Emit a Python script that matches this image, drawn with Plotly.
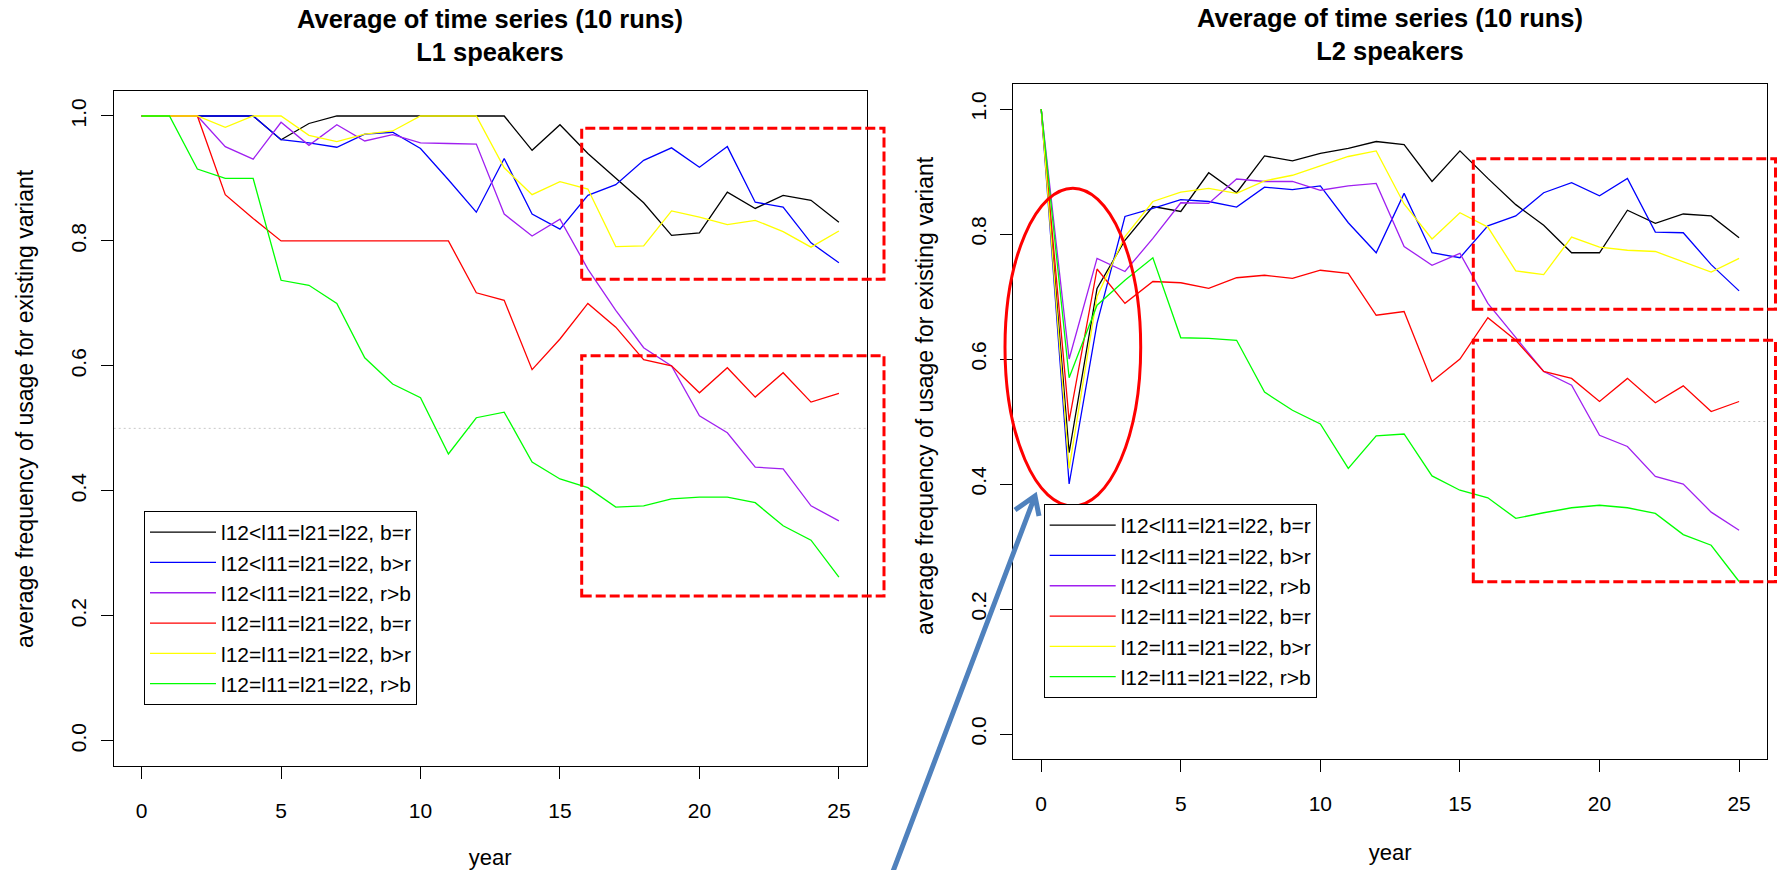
import plotly.graph_objects as go

# ---------------- data ----------------
years = list(range(26))

legend_labels = [
    "l12&lt;l11=l21=l22, b=r",
    "l12&lt;l11=l21=l22, b&gt;r",
    "l12&lt;l11=l21=l22, r&gt;b",
    "l12=l11=l21=l22, b=r",
    "l12=l11=l21=l22, b&gt;r",
    "l12=l11=l21=l22, r&gt;b",
]
line_colors = ["#000000", "#0000FF", "#A020F0", "#FF0000", "#FFFF00", "#00FF00"]

# L1 speakers
l1_black = [1, 1, 1, 1, 1, 0.962, 0.988, 1, 1, 1, 1, 1, 1, 1.0, 0.945, 0.986, 0.940, 0.900,
            0.861, 0.809, 0.813, 0.878, 0.852, 0.873, 0.865, 0.830]
l1_blue = [1, 1, 1, 1, 1, 0.962, 0.957, 0.950, 0.971, 0.974, 0.948, 0.898, 0.846, 0.932,
           0.843, 0.819, 0.873, 0.890, 0.929, 0.949, 0.918, 0.951, 0.862, 0.854, 0.797, 0.765]
l1_purple = [1, 1, 1, 0.951, 0.931, 0.990, 0.953, 0.986, 0.960, 0.970, 0.957, 0.956, 0.955,
             0.843, 0.808, 0.835, 0.755, 0.689, 0.629, 0.600, 0.520, 0.493, 0.438, 0.435,
             0.376, 0.352]
l1_red = [1, 1, 1, 0.874, 0.836, 0.8, 0.8, 0.8, 0.8, 0.8, 0.8, 0.8, 0.717, 0.705, 0.594,
          0.643, 0.700, 0.662, 0.610, 0.600, 0.557, 0.597, 0.550, 0.589, 0.542, 0.556]
l1_yellow = [1, 1, 1, 0.982, 1.0, 1.0, 0.969, 0.959, 0.971, 0.976, 1.0, 1.0, 1.0, 0.917,
             0.874, 0.895, 0.883, 0.791, 0.792, 0.848, 0.838, 0.826, 0.833, 0.815, 0.790,
             0.816]
l1_green = [1, 1, 0.915, 0.900, 0.900, 0.737, 0.729, 0.700, 0.613, 0.571, 0.549, 0.459,
            0.517, 0.526, 0.446, 0.419, 0.405, 0.374, 0.376, 0.387, 0.390, 0.390, 0.381,
            0.344, 0.321, 0.262]

# L2 speakers
l2_black = [1, 0.450, 0.713, 0.790, 0.844, 0.836, 0.898, 0.866, 0.925, 0.917, 0.929, 0.937,
            0.948, 0.943, 0.884, 0.933, 0.889, 0.847, 0.814, 0.770, 0.770, 0.838, 0.817,
            0.832, 0.829, 0.794]
l2_blue = [1, 0.400, 0.657, 0.828, 0.841, 0.855, 0.852, 0.843, 0.875, 0.871, 0.877, 0.818,
           0.770, 0.865, 0.770, 0.762, 0.813, 0.829, 0.866, 0.882, 0.861, 0.889, 0.803,
           0.802, 0.751, 0.709]
l2_purple = [1, 0.600, 0.761, 0.740, 0.793, 0.850, 0.849, 0.888, 0.884, 0.884, 0.870, 0.877,
             0.881, 0.780, 0.750, 0.769, 0.689, 0.635, 0.580, 0.558, 0.478, 0.460, 0.412,
             0.400, 0.355, 0.326]
l2_red = [1, 0.501, 0.744, 0.689, 0.724, 0.722, 0.713, 0.730, 0.734, 0.729, 0.742, 0.737,
          0.670, 0.676, 0.564, 0.600, 0.666, 0.630, 0.580, 0.569, 0.532, 0.569, 0.530,
          0.557, 0.516, 0.532]
l2_yellow = [1, 0.425, 0.700, 0.796, 0.852, 0.867, 0.873, 0.865, 0.885, 0.894, 0.909, 0.924,
             0.933, 0.848, 0.792, 0.834, 0.811, 0.741, 0.735, 0.795, 0.779, 0.774, 0.772,
             0.756, 0.739, 0.761]
l2_green = [1, 0.570, 0.686, 0.726, 0.762, 0.634, 0.633, 0.630, 0.547, 0.518, 0.496, 0.425,
            0.477, 0.480, 0.413, 0.390, 0.378, 0.345, 0.354, 0.362, 0.366, 0.362, 0.353,
            0.319, 0.302, 0.244]

x_ticks = [0, 5, 10, 15, 20, 25]
y_ticks = [0.0, 0.2, 0.4, 0.6, 0.8, 1.0]
y_ticktext = ["0.0", "0.2", "0.4", "0.6", "0.8", "1.0"]

title_line1 = "Average of time series (10 runs)"
title_l1 = "L1 speakers"
title_l2 = "L2 speakers"
x_title = "year"
y_title = "average frequency of usage for existing variant"

# ---------------- layout helpers ----------------
W, H = 1777, 870
FONT = "Liberation Sans, Arial, Helvetica, sans-serif"


def px(x):
    return x / W


def py(y):
    return 1 - y / H


fig = go.Figure()

l1_series = [l1_black, l1_blue, l1_purple, l1_red, l1_yellow, l1_green]
l2_series = [l2_black, l2_blue, l2_purple, l2_red, l2_yellow, l2_green]

for name, col, vals in zip(legend_labels, line_colors, l1_series):
    fig.add_trace(go.Scatter(x=years, y=vals, mode="lines", name=name,
                             line=dict(color=col, width=1.3),
                             xaxis="x", yaxis="y", legend="legend"))
for name, col, vals in zip(legend_labels, line_colors, l2_series):
    fig.add_trace(go.Scatter(x=years, y=vals, mode="lines", name=name,
                             line=dict(color=col, width=1.3),
                             xaxis="x2", yaxis="y2", legend="legend2"))

axis_common = dict(
    showline=True, mirror=True, linecolor="#000000", linewidth=1.2,
    ticks="outside", ticklen=12, tickwidth=1, tickcolor="#000000",
    showgrid=False, zeroline=False, automargin=False,
    tickfont=dict(family=FONT, size=21, color="#000000"),
)

xcommon = dict(axis_common, range=[-1, 26], tickmode="array", tickvals=x_ticks,
               ticklabelstandoff=14,
               title=dict(text=x_title, font=dict(family=FONT, size=22, color="#000000"),
                          standoff=30))
ycommon = dict(axis_common, range=[-0.04, 1.04], tickmode="array", tickvals=y_ticks,
               ticktext=y_ticktext, tickangle=-90, ticklabelstandoff=6)

legend_common = dict(
    xanchor="left", yanchor="top", bgcolor="#FFFFFF", bordercolor="#000000",
    borderwidth=1, font=dict(family=FONT, size=21, color="#000000"),
    itemwidth=66, tracegroupgap=0, itemclick=False, itemdoubleclick=False,
)

shapes = []
# dotted reference line at 0.5
for xr, yr in (("x", "y"), ("x2", "y2")):
    shapes.append(dict(type="line", xref=xr, yref=yr, x0=-1, x1=26, y0=0.5, y1=0.5,
                       line=dict(color="#C8C8C8", width=1, dash="2px,3px"), layer="below"))

box_line = dict(color="#FF0000", width=3, dash="10px,4px")
# left panel highlight boxes
shapes.append(dict(type="rect", xref="paper", yref="paper",
                   x0=px(581.7), x1=px(884), y0=py(279.3), y1=py(128.3), line=box_line))
shapes.append(dict(type="rect", xref="paper", yref="paper",
                   x0=px(581.7), x1=px(884), y0=py(596), y1=py(355.7), line=box_line))
# right panel highlight boxes
shapes.append(dict(type="rect", xref="paper", yref="paper",
                   x0=px(1473.3), x1=px(1775.5), y0=py(309.3), y1=py(158.7), line=box_line))
shapes.append(dict(type="rect", xref="paper", yref="paper",
                   x0=px(1473.3), x1=px(1775.5), y0=py(581.7), y1=py(340.3), line=box_line))
# ellipse around the early dip
shapes.append(dict(type="circle", xref="paper", yref="paper",
                   x0=px(1005), x1=px(1140.7), y0=py(506), y1=py(188.3),
                   line=dict(color="#FF0000", width=3)))
# blue arrow
tail = (890.5, 878)
tip = (1035, 496)
w1 = (1015, 510)
w2 = (1039, 516)
arrow_path = (f"M {px(tail[0])},{py(tail[1])} L {px(tip[0])},{py(tip[1])} "
              f"M {px(w1[0])},{py(w1[1])} L {px(tip[0])},{py(tip[1])} L {px(w2[0])},{py(w2[1])}")
shapes.append(dict(type="path", xref="paper", yref="paper", path=arrow_path,
                   line=dict(color="#4F81BD", width=5)))

annotations = [
    dict(text=f"<b>{title_line1}</b><br><b>{title_l1}</b>", xref="paper", yref="paper",
         x=px(490), y=py(36), xanchor="center", yanchor="middle", showarrow=False,
         font=dict(family=FONT, size=25.5, color="#000000")),
    dict(text=f"<b>{title_line1}</b><br><b>{title_l2}</b>", xref="paper", yref="paper",
         x=px(1390), y=py(34), xanchor="center", yanchor="middle", showarrow=False,
         font=dict(family=FONT, size=25.5, color="#000000")),
    # y-axis titles
    dict(text=y_title, xref="paper", yref="paper", x=px(25), y=py(409),
         xanchor="center", yanchor="middle", textangle=-90, showarrow=False,
         font=dict(family=FONT, size=23, color="#000000")),
    dict(text=y_title, xref="paper", yref="paper", x=px(925), y=py(396),
         xanchor="center", yanchor="middle", textangle=-90, showarrow=False,
         font=dict(family=FONT, size=23, color="#000000")),
]

fig.update_layout(
    width=W, height=H, autosize=False,
    margin=dict(l=0, r=0, t=0, b=0, pad=0),
    template="none",
    paper_bgcolor="#FFFFFF", plot_bgcolor="#FFFFFF",
    font=dict(family=FONT, size=21, color="#000000"),
    xaxis=dict(xcommon, domain=[px(113.7), px(866.8)], anchor="y"),
    yaxis=dict(ycommon, domain=[py(765.7), py(91)], anchor="x"),
    xaxis2=dict(xcommon, domain=[px(1013.3), px(1767)], anchor="y2"),
    yaxis2=dict(ycommon, domain=[py(759), py(84)], anchor="x2"),
    legend=dict(legend_common, x=px(144), y=py(511)),
    legend2=dict(legend_common, x=px(1043.7), y=py(504)),
    shapes=shapes,
    annotations=annotations,
    showlegend=True,
)

fig.write_html("out.html", config={"displayModeBar": False},
               post_script="document.body.style.margin='0';document.body.style.overflow='hidden';")
